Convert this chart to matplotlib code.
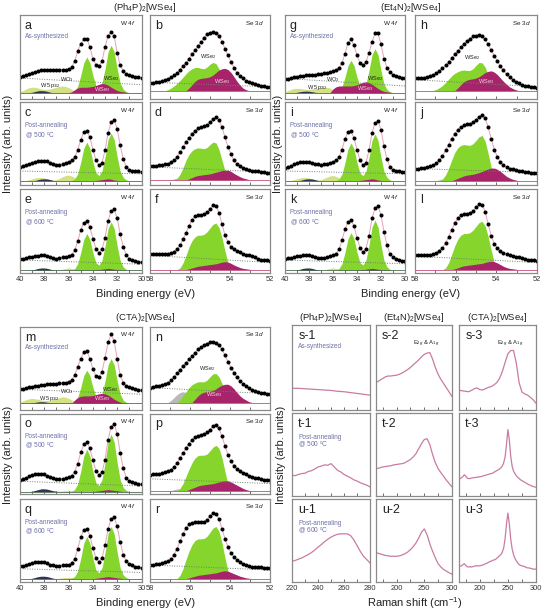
import numpy as np
import matplotlib
matplotlib.use('Agg')
import matplotlib.pyplot as plt

plt.rcParams.update({
    'font.family': ['Liberation Sans', 'DejaVu Sans'],
    'mathtext.fontset': 'custom',
    'mathtext.rm': 'Liberation Sans',
    'mathtext.it': 'Liberation Sans:italic',
    'mathtext.bf': 'Liberation Sans:bold',
})

# ---------------- XPS W 4f data (40 -> 30 eV, 0.25 eV step) ----------------
a_dots = [26, 27, 28, 29.5, 31, 32, 33.5, 34.5, 35, 35, 34.5, 34, 34, 34.5, 35, 35, 35.5, 38, 45, 57, 66,
          71, 72, 62, 48, 41, 39, 45, 62, 75, 80, 75, 55, 40, 33, 30, 28.5, 27, 26.5, 26, 25.5]
c_dots = [22, 23, 24, 25.5, 27, 28, 29, 29.5, 29.5, 28.5, 27, 25.5, 24.5, 24.5, 25.5, 27, 28, 30, 34, 42, 55,
          64, 66, 58, 43, 30, 24, 27, 42, 63, 76, 79, 68, 48, 31, 22, 18.5, 17.5, 17, 16.5, 16]
e_dots = [16.5, 17, 17.5, 18.5, 19.5, 20, 20.5, 21, 21, 20, 18.5, 17.5, 17, 17.5, 18.5, 19.5, 20, 22, 27, 38, 51,
          60, 62, 55, 41, 29, 24, 28, 42, 62, 74, 76, 65, 46, 31, 21.5, 17, 15.5, 14.5, 13.5, 12.5]
g_dots = [23.5, 24, 25, 26, 26.5, 27, 27.5, 28, 28.5, 28.5, 29, 29.5, 30, 30.5, 31, 32, 33, 34.5, 37, 43, 54,
          67, 71, 64, 52, 43, 40.5, 44, 55, 68, 78, 78, 65, 48, 37, 32, 29, 27, 26, 25, 24.5]
i_dots = [21, 22, 23.5, 25, 26.5, 27.5, 28, 28, 28, 27, 26, 25, 24.5, 25, 26, 27, 28, 30, 34, 43, 56,
          64, 65, 57, 43, 30, 24, 27, 42, 63, 75, 78, 67, 47, 31, 22, 18, 17, 16.5, 16, 15.5]
k_dots = [17, 17.5, 18, 19, 20, 20.5, 21, 21, 21, 20, 19, 18, 17.5, 18, 19, 20, 21, 23, 28, 39, 52,
          61, 63, 56, 42, 30, 25, 29, 44, 65, 77, 80, 69, 49, 33, 23, 18.5, 16.5, 15.5, 14.5, 14]
m_dots = [25, 25.5, 26.5, 27.5, 28, 29, 29.5, 30, 30.5, 31, 31, 31.5, 31.5, 32, 32.5, 33, 34, 36, 42, 52, 62,
          70, 71, 62, 49, 41, 40, 46, 63, 82, 91, 83, 62, 42, 33, 29, 27.5, 26.5, 25.5, 24.5, 24]
o_dots = [17.5, 18.5, 20, 22, 23.5, 24.5, 25, 25, 24.5, 23, 21, 19.5, 18.5, 18.5, 19, 20, 21, 23, 28, 38, 52,
          62, 65, 57, 42, 29, 23.5, 27, 43, 68, 84, 88, 75, 51, 32, 20, 16, 14.5, 13.5, 12.5, 12]
q_dots = [19, 19.5, 20.5, 21.5, 22.5, 23.5, 24, 24, 23.5, 22.5, 21, 20, 19.5, 19.5, 20, 20.5, 21, 23, 28, 40, 54,
          63, 64, 56, 41, 29, 24.5, 29, 44, 64, 76, 78, 67, 48, 33, 25, 21.5, 20, 18.5, 17.5, 17]

# components: (start eV, values), step 0.25 eV towards lower BE
a_green = (36.0, [7.5, 7.9, 9.6, 15.2, 27.9, 43.2, 50, 43.2, 27.9, 16.3, 13.6, 19.2, 35.8, 56.1, 64, 56.1, 35.8,
                  18.8, 11.5, 8.6, 7.5])
a_mag = (36.0, [7.5, 8.5, 11, 13, 14, 14, 14, 14.5, 15, 16, 17.5, 18.5, 18, 16.5, 14, 12, 10, 9, 8.5, 8, 7.5])
a_yel = (40.0, [8.5, 10, 12, 13.5, 14, 14, 13, 12, 11.5, 11.5, 12, 13, 14, 15, 15.5, 15, 13.5, 11.5, 10, 9, 7.5])
a_navy = (39.25, [7.5, 8, 9, 9.8, 10, 9.8, 9, 8, 7.5])
g_green = (36.0, [7.5, 7.9, 9.4, 14.4, 26, 39.8, 46, 39.8, 26, 15.5, 13.1, 18.4, 33.8, 52.7, 60, 52.7, 33.8,
                  18, 11.2, 8.6, 7.5])
g_mag = (36.25, [7.5, 12, 14.5, 15.5, 15.5, 15.5, 15.5, 15.5, 16, 17, 18.5, 20, 20.5, 19.5, 17.5, 15, 12.5, 10.5,
                 9, 8.5, 8, 7.5])
g_yel = (40.0, [8.5, 10, 11.5, 12.5, 12.7, 12.5, 12, 11.5, 11.5, 12, 12.5, 13, 13.5, 14, 14, 13, 11, 9, 7.5])
g_navy = (39.25, [7.5, 8, 8.7, 9.2, 9.4, 9.2, 8.7, 8, 7.5])
m_green = (36.0, [8, 8.4, 10, 15.2, 27.2, 41.6, 48, 41.6, 27.2, 16.3, 13.8, 19.2, 35, 54.4, 62, 54.4, 35,
                  18.8, 11.8, 9.1, 8])
m_mag = (35.75, [8, 12, 15, 16.5, 17, 17, 17, 17.5, 18.5, 19.5, 20, 19.5, 18, 15.5, 13, 11, 9.5, 8.5, 8, 8])
m_yel = (40.0, [9, 11, 12.5, 13.5, 14, 13.5, 13, 12, 11.5, 11.5, 12, 13, 14, 15, 16, 15.5, 14, 12, 10, 8])
m_navy = (39.25, [8, 8.5, 9.2, 9.8, 10, 9.8, 9.2, 8.5, 8])
c_green = (36.0, [5, 5.5, 7.4, 13.5, 27.6, 44.5, 52, 44.5, 27.6, 14.7, 11.5, 17.1, 34, 54.9, 63, 54.9, 34,
                  16.6, 9.1, 6.2, 5])
c_mag = (34.0, [5, 5.5, 6, 6.5, 7, 7.5, 7, 6, 5.5, 5, 5])
c_yel = (39.75, [5, 5.5, 6.5, 7.5, 8.5, 9, 9, 8.5, 7.5, 6.5, 6, 6.5, 8, 10, 11.5, 12, 11, 9, 6.5, 5])
c_navy = (39.0, [5, 5.5, 6.5, 7.3, 7.5, 7.3, 6.5, 5.5, 5])
i_green = (36.0, [5, 5.5, 7.3, 13.3, 27.1, 43.6, 51, 43.6, 27.1, 14.4, 11.3, 16.9, 33.5, 54, 62, 54, 33.5,
                  16.4, 9, 6.1, 5])
i_mag = (34.0, [5, 5.5, 6, 6.5, 7, 7.5, 7, 6, 5.5, 5, 5])
i_yel = (39.75, [5, 5.5, 6.5, 7.5, 8.5, 9, 9, 8.5, 7.5, 6.5, 6, 6.5, 8, 9.5, 11, 11.5, 10.5, 8.5, 6.5, 5])
i_navy = (39.0, [5, 5.5, 6.5, 7.3, 7.5, 7.3, 6.5, 5.5, 5])
o_green = (36.0, [3, 3.5, 5.7, 12.5, 28.4, 47.5, 56, 47.5, 28.4, 13.9, 10.7, 17.9, 39, 64.9, 75, 64.9, 39,
                  17.4, 8, 4.4, 3])
o_mag = (34.0, [3, 3.5, 4, 4.5, 5, 5.5, 5, 4.5, 4, 3.5, 3])
o_yel = (37.0, [3, 3.5, 4, 4.5, 4.5, 4, 3.5, 3, 3])
o_navy = (39.25, [3, 3.5, 4.5, 5.5, 6.5, 6.5, 6, 5, 4, 3.5, 3])
e_green = (36.0, [3, 3.4, 5.2, 10.9, 24.1, 40, 47, 40, 24.1, 12.1, 9.3, 15, 32, 52.9, 61, 52.9, 32,
                  14.6, 7.1, 4.2, 3])
e_mag = (34.0, [3, 3.5, 4, 4.5, 5, 5.5, 5, 4.5, 4, 3.5, 3])
e_yel = (37.0, [3, 3.5, 4.5, 5.5, 6, 5.5, 4.5, 3.5, 3])
e_navy = (39.25, [3, 3.5, 4.5, 5.5, 6, 6, 5.5, 4.5, 3.5, 3, 3])
k_green = (36.0, [3, 3.5, 5.3, 11.1, 24.6, 40.8, 48, 40.8, 24.6, 12.3, 9.5, 15.5, 33, 54.6, 63, 54.6, 33,
                  15, 7.2, 4.2, 3])
k_mag = (34.0, [3, 3.5, 4, 4.5, 5, 5.5, 5, 4.5, 4, 3.5, 3])
k_yel = (37.0, [3, 3.5, 4.5, 5.5, 6, 5.5, 4.5, 3.5, 3])
k_navy = (39.25, [3, 3.5, 4.5, 5.5, 6, 6, 5.5, 4.5, 3.5, 3, 3])
q_green = (36.0, [4, 4.5, 6.6, 13.2, 28.5, 46.8, 55, 46.8, 28.5, 14.5, 11, 17.1, 35.5, 58.2, 67, 58.2, 35.5,
                  16.6, 8.4, 5.3, 4])
q_mag = (34.0, [4, 4.5, 5, 5.5, 6, 6.5, 6, 5.5, 5, 4.5, 4])
q_yel = (37.0, [4, 4.5, 5, 5.5, 5.5, 5, 4.5, 4, 4])
q_navy = (39.25, [4, 4.5, 5.5, 6.5, 7, 7, 6.5, 5.5, 4.5, 4, 4])

# ---------------- XPS Se 3d data (58 -> 52 eV, 0.15 eV step) ----------------
b_dots = [19, 19.5, 20, 20.5, 21, 22.5, 24, 26, 28, 31, 35, 39, 43, 48, 53, 58, 63, 68, 73, 77, 79,
          80, 79, 75, 68, 60, 52, 44, 37, 31, 27, 24.5, 22, 20.5, 19, 18, 17, 16, 15.5, 14.5, 14]
d_dots = [23, 23, 23.5, 24, 24.5, 25, 26, 27.5, 30, 34, 40, 46, 52, 57.5, 62, 66, 69, 70.5, 71.5, 73, 76,
          80, 82, 79, 70, 58, 46, 37, 30, 25.5, 22.5, 20.5, 19, 18, 17.5, 17, 16.5, 16, 15.5, 15, 14.5]
f_dots = [22.5, 22.5, 22.5, 22.5, 22.5, 22.5, 22.5, 23.5, 25.5, 28.5, 33, 40, 48, 56, 63, 67.5, 69, 69, 70, 72.5, 76,
          80.5, 80, 72, 58, 45, 37, 31.5, 28, 26, 24.5, 23, 22, 21, 20, 18.5, 17, 16, 15.5, 15, 14.5]
h_dots = [24.5, 25, 25, 25.5, 26, 27, 29, 31, 33.5, 36.5, 40, 44, 48.5, 53, 57, 61.5, 65.5, 69, 72, 74.5, 75.5,
          76, 74.5, 71, 65, 58, 51.5, 45, 39, 34, 29.5, 26, 23, 20.5, 18.5, 17, 16, 15, 14.5, 14, 13.5]
j_dots = [20, 20, 20.5, 21, 21.5, 22.5, 24, 26.5, 30, 35, 42, 49, 56, 62, 67, 70.5, 72.5, 73.5, 74, 76, 79,
          83, 85, 81, 70, 56, 43, 34, 28, 24, 21.5, 20, 19, 18, 17, 16.5, 16, 15.5, 15, 14.5, 14]
l_dots = [21, 21, 21, 21.5, 21.5, 22, 22.5, 24, 26.5, 30, 35.5, 43, 51, 59, 65, 69, 70.5, 70.5, 71.5, 74, 78,
          82, 81, 73, 58, 44, 35, 29.5, 26, 24, 22.5, 21.5, 20.5, 19.5, 18.5, 17.5, 16.5, 16, 15.5, 15, 14.5]
n_dots = [27, 27.5, 28.5, 29.5, 30.5, 31.5, 33, 36, 39.5, 44, 48.5, 53, 57, 61, 65, 69, 73, 76, 78.5, 80, 81.5,
          82, 81, 78, 73, 66, 58, 51, 45, 39.5, 35, 31.5, 28.5, 26.5, 24.5, 23, 22, 21, 20, 19.5, 19]
p_dots = [24, 24.5, 25, 25.5, 26, 27, 28.5, 30.5, 34, 39, 45, 51, 57, 63, 68, 71.5, 73, 74, 75, 77, 80.5,
          84.5, 86, 82, 72, 60, 49, 41, 35.5, 31.5, 28.5, 26, 24.5, 23, 21.5, 20.5, 19.5, 18.5, 18, 17.5, 17]
r_dots = [21, 21, 21.5, 22, 22.5, 23.5, 25, 28, 33, 40, 49, 58, 65, 69.5, 71.5, 72, 72, 72, 72.5, 75, 79,
          83.5, 82, 76, 64, 52, 42, 35, 30, 26, 23.5, 21.5, 20, 19, 18.5, 18, 17.5, 17.5, 17, 17, 16.5]

b_green = (57.25, [10, 11, 13, 15.5, 18.5, 22, 26, 30, 33.5, 36, 37.5, 37.5, 36.5, 36, 38, 41.5, 43.5, 42, 36, 26, 17, 10])
b_mag = (56.2, [10, 13, 17, 21, 23.5, 24.5, 25, 25.5, 26.5, 28.5, 31.5, 34.5, 36, 36.5, 35, 31.5, 26.5, 21, 16.5, 13, 11, 10])
b_gray = (57.1, [10, 12, 14.5, 17, 19, 20, 19, 15, 10])
h_green = (57.1, [10, 11, 13, 16, 19.5, 23.5, 27.5, 30.5, 32.5, 34, 34.5, 34, 34, 36, 40, 43.5, 43, 38, 29, 20, 13, 10])
h_mag = (56.05, [10, 13, 17, 20.5, 22.5, 23.5, 24, 25, 26.5, 29, 31.5, 33, 33.5, 32, 29, 25, 21, 17.5, 14.5, 12.5, 11, 10])
h_gray = (57.1, [10, 11.5, 13.5, 15.5, 17, 17.5, 16.5, 13.5, 10])
n_green = (56.65, [9, 12, 17, 22, 27, 30.5, 32.5, 34, 34, 34, 36, 40, 43.5, 44, 40, 32, 22, 14, 10, 9])
n_mag = (55.9, [9, 13, 17, 20, 21.5, 22, 22.5, 23.5, 25.5, 28, 30, 31, 31, 29, 25.5, 21, 17, 14, 12, 10, 9])
n_gray = (57.1, [9, 11.5, 15, 18.5, 21, 22, 21, 16, 9])
d_green = (56.8, [6, 8, 13, 21, 30, 37, 41.5, 44, 45, 44.5, 44, 45.5, 49, 52, 51, 43, 30, 17, 9, 6])
d_mag = (56.2, [6, 7.5, 9, 10.5, 11.5, 12, 12.5, 13, 13.5, 14.5, 15.5, 16.5, 17.5, 18, 18, 16.5, 14, 12, 10, 8.5,
                7.5, 6.5, 6])
d_gray = (57.0, [6, 7, 8, 8.5, 8, 7, 6])
j_green = (56.8, [5, 7, 12, 20, 30, 39, 45, 48, 49, 48.5, 48, 50, 54, 58.5, 60, 53, 38, 21, 10, 5])
j_mag = (56.2, [5, 6.5, 8, 9.5, 11, 12, 12.5, 13, 14, 15, 16.5, 18, 19.5, 20.5, 20.5, 19, 16.5, 13.5, 10.5, 8.5,
                7, 6, 5])
j_gray = (57.0, [5, 6, 7, 7.5, 7, 6, 5])
p_green = (56.65, [4, 7, 13, 22, 31, 39, 45, 48, 48.5, 48.5, 50, 54, 58.5, 61, 57, 45, 28, 12, 4])
p_mag = (56.2, [4, 5.5, 7, 8.5, 10, 11, 11.5, 12, 12.5, 13, 14, 15, 16, 16.5, 16.5, 15, 13, 11, 9, 7, 5.5, 4.5, 4])
p_gray = (57.0, [4, 5, 6, 6.5, 6, 5, 4])
f_green = (56.65, [4, 6, 12, 21, 31, 38.5, 43, 45, 45, 46, 49, 53.5, 58, 59.5, 54, 42, 26, 12, 4])
f_mag = (56.2, [4, 5, 6, 7, 8, 8.5, 9, 9.5, 10, 10.5, 11, 12, 13, 13.5, 13, 11.5, 9.5, 8, 6.5, 5.5, 5, 4.5, 4])
l_green = (56.65, [4, 6, 12, 22, 32, 40, 45, 47, 47, 48, 51, 55.5, 60, 61.5, 56, 43, 27, 12, 4])
l_mag = (56.2, [4, 5, 6, 7.5, 8.5, 9, 9.5, 10, 10.5, 11, 11.5, 12.5, 13.5, 14, 13.5, 12, 10, 8, 6.5, 5.5, 5, 4.5, 4])
r_green = (56.65, [4, 8, 16, 27, 37, 45, 50, 52, 52, 52.5, 55, 60, 65, 67, 61, 47, 29, 13, 4])
r_mag = (56.2, [4, 5, 6, 7, 8, 8.5, 9, 9.5, 10, 10.5, 11, 12, 13, 13.5, 13, 11.5, 10, 8.5, 7, 6, 5, 4.5, 4])

# baselines and linear backgrounds (value at left edge, value at right edge)
xps_base = {'a': 7.5, 'g': 7.5, 'm': 8, 'c': 5, 'i': 5, 'o': 3, 'e': 3, 'k': 3, 'q': 4,
            'b': 10, 'h': 10, 'n': 9, 'd': 6, 'j': 5, 'p': 4, 'f': 4, 'l': 4, 'r': 4}
xps_bg = {'a': (25, 17), 'g': (24.5, 15.5), 'm': (25, 19), 'c': (17, 13.5), 'i': (17, 13.5),
          'o': (16, 10), 'e': (15.5, 10.5), 'k': (15.5, 11), 'q': (16, 11.5),
          'b': (20, 14.5), 'h': (23, 14.5), 'n': (27, 19.5), 'd': (22, 15.5), 'j': (20, 15),
          'p': (19, 13), 'f': (21, 12.5), 'l': (20, 12.5), 'r': (20.5, 14.5)}

# ---------------- Raman data ----------------
s1 = [25.5, 25.5, 25, 24.5, 24, 23.5, 23, 22, 21.5, 20.5, 19.5, 18.5, 17.5]
t1 = [25, 24.5, 26, 27, 27.5, 29.5, 30.5, 32.5, 35, 36, 37.5, 37, 39, 35, 31, 29, 26, 24, 22, 19.5, 18, 16,
      14.5, 13, 11]
u1 = [25, 26, 27.5, 29, 31, 33, 35.5, 38.5, 42, 45, 48.5, 51.5, 54, 56, 57.5, 58, 58, 58, 56, 51, 44, 37, 31,
      27, 23]
s2 = [33, 35, 37, 39, 40, 40, 40.5, 41, 42, 43.5, 45.5, 47.5, 50, 53, 56, 59, 62.5, 65.5, 67, 67.5, 60, 50, 42,
      36, 31, 26, 21, 16]
t2 = [33, 34, 35, 35.5, 36, 36.5, 37.5, 38, 38.5, 39, 40, 42, 44, 47, 51, 57, 63, 68, 69, 62, 50, 40, 33, 28,
      23.5, 19, 15, 11]
u2 = [35, 34, 33, 32, 31.5, 31, 31, 31, 31.5, 32.5, 34, 36, 39, 42.5, 47, 53, 60, 64, 57, 46, 37, 29, 22, 18,
      15, 13, 11, 9.5]
s3 = [23, 22.5, 22, 21.5, 23, 25, 26, 24, 23.5, 25, 26.5, 27.5, 29.5, 32, 37, 45, 56, 66, 70, 70, 55, 32, 21,
      19, 17.5, 15, 12, 8]
t3 = [21, 22, 23.5, 25.5, 24, 21.5, 21, 21, 21.5, 22, 22, 22.5, 22.5, 23, 23, 23.5, 24, 24.5, 25, 25.5, 26,
      26.5, 27, 27.5, 28.5, 29.5, 30.5, 31.5, 32.5, 34, 36, 40, 47, 62, 80, 68, 48, 36, 30, 27, 24.5, 22.5, 21,
      19.5, 18.5, 17.5, 16.5, 15.5, 14.5, 13.5, 13, 12, 11.5, 11, 10.5]
u3 = [19, 19.5, 21, 22, 20, 18.5, 18, 18.5, 18, 18.5, 19, 19.5, 19.5, 19.5, 19.5, 20, 20.5, 21, 22, 22.5, 23.5,
      24.5, 25, 26, 26.5, 27, 28.5, 30, 31.5, 33, 36, 41, 52, 70, 83, 70, 52, 40, 33, 28.5, 25.5, 23, 21, 20,
      19.5, 19, 18.5, 17.5, 17, 17, 16.5, 16, 15.5, 15.5, 15.5]

# ---------------- style ----------------
GREEN = '#86d52c'
MAGENTA = '#a7246a'
YELLOW = '#d3e083'
NAVY = '#2d3654'
GRAY = '#b9b9b9'
SPINE = '#8a8a8a'
FIT = '#e7a2b8'
RAMAN = '#c97ba2'
NOTE = '#6d71a8'
TXT = '#222222'

W_PX, H_PX = 543, 613
fig = plt.figure(figsize=(5.43, 6.13), dpi=100)


def add_ax(x0, y0, x1, y1):
    return fig.add_axes([x0 / W_PX, 1 - y1 / H_PX, (x1 - x0) / W_PX, (y1 - y0) / H_PX])


def fig_text(x, y, s, **kw):
    fig.text(x / W_PX, 1 - y / H_PX, s, **kw)


def style_ax(ax, show_labels):
    for sp in ax.spines.values():
        sp.set_color(SPINE)
        sp.set_linewidth(0.9)
    ax.set_yticks([])
    ax.tick_params(which='both', direction='in', length=2.2, width=0.6, color='#555555',
                   top=False, labelbottom=show_labels, labelsize=5.4, pad=2, labelcolor='#333333')


def xps_panel(ax, core, key, dots, comps, labels, show_labels):
    if core == 'W':
        lo, hi, step = 40, 30, 0.25
        base_col = '#4f6c55'
    else:
        lo, hi, step = 58, 52, 0.15
        base_col = '#c4507f'
    base = xps_base[key]
    for color, (x0, vals) in comps:
        xs = x0 - step * np.arange(len(vals))
        ax.fill_between(xs, base, vals, color=color, lw=0)
    ax.plot([lo, hi], [base, base], color=base_col, lw=0.6)
    ax.plot([lo, hi], xps_bg[key], ls=(0, (1, 1.5)), color='#6f8070', lw=0.7)
    xd = np.linspace(lo, hi, len(dots))
    ax.plot(xd, dots, color=FIT, lw=0.7)
    ax.plot(xd, dots, 'o', ms=2.9, color='black', mec='none')
    for s, x, y, c in labels:
        ax.text(x, y, s, color=c, fontsize=4.1, ha='center', va='center')
    ax.set_xlim(lo, hi)
    ax.set_ylim(0, 100)
    if core == 'W':
        ax.set_xticks([40, 38, 36, 34, 32, 30])
        ax.set_xticks([39, 37, 35, 33, 31], minor=True)
        ax.text(0.95, 0.91, r'W $\mathit{4f}$', transform=ax.transAxes, fontsize=4.6,
                ha='right', va='center', color=TXT)
    else:
        ax.set_xticks([58, 56, 54, 52])
        ax.set_xticks([57, 55, 53], minor=True)
        ax.text(0.95, 0.91, r'Se $\mathit{3d}$', transform=ax.transAxes, fontsize=4.6,
                ha='right', va='center', color=TXT)
    style_ax(ax, show_labels)
    ax.text(0.04, 0.87, key, transform=ax.transAxes, fontsize=9, ha='left', va='center', color=TXT)


def note(ax, row, x=0.04, ys=(0.75, 0.72, 0.60)):
    if row == 0:
        ax.text(x, ys[0], 'As-synthesized', transform=ax.transAxes, fontsize=4.7, color=NOTE,
                ha='left', va='center')
    else:
        temp = '500' if row == 1 else '600'
        ax.text(x, ys[1], 'Post-annealing', transform=ax.transAxes, fontsize=4.7, color=NOTE,
                ha='left', va='center')
        ax.text(x, ys[2], '@ ' + temp + r' $^{\rm o}$C', transform=ax.transAxes, fontsize=4.7,
                color=NOTE, ha='left', va='center')


W_LBL = [('W 5p$_{3/2}$', 37.5, 15.5, TXT), ('WO$_3$', 36.1, 23, TXT), ('WSe$_2$', 32.5, 24, TXT),
         ('WSe$_3$', 33.2, 11.5, '#f3d6e4')]
SE_LBL = [('WSe$_2$', 55.1, 50, TXT), ('WSe$_3$', 54.4, 20.5, '#f3d6e4')]

top_rows = [(15, 99), (102.5, 185), (189, 273)]
bot_rows = [(327, 410), (414, 494), (499, 582)]
blocks = [
    ((20, 141.5), (150, 270), top_rows, [
        ('a', a_dots, [(YELLOW, a_yel), (NAVY, a_navy), (GREEN, a_green), (MAGENTA, a_mag)], W_LBL,
         'b', b_dots, [(GRAY, b_gray), (GREEN, b_green), (MAGENTA, b_mag)], SE_LBL),
        ('c', c_dots, [(YELLOW, c_yel), (NAVY, c_navy), (GREEN, c_green), (MAGENTA, c_mag)], [],
         'd', d_dots, [(GRAY, d_gray), (GREEN, d_green), (MAGENTA, d_mag)], []),
        ('e', e_dots, [(YELLOW, e_yel), (NAVY, e_navy), (GREEN, e_green), (MAGENTA, e_mag)], [],
         'f', f_dots, [(GREEN, f_green), (MAGENTA, f_mag)], []),
    ]),
    ((285, 405), (415, 537), top_rows, [
        ('g', g_dots, [(YELLOW, g_yel), (NAVY, g_navy), (GREEN, g_green), (MAGENTA, g_mag)],
         [('W 5p$_{3/2}$', 37.3, 13.5, TXT), ('WO$_3$', 36.0, 23, TXT), ('WSe$_2$', 32.5, 24.5, TXT),
          ('WSe$_3$', 33.3, 12.7, '#f3d6e4')],
         'h', h_dots, [(GRAY, h_gray), (GREEN, h_green), (MAGENTA, h_mag)],
         [('WSe$_2$', 55.2, 49.5, TXT), ('WSe$_3$', 54.5, 20.5, '#f3d6e4')]),
        ('i', i_dots, [(YELLOW, i_yel), (NAVY, i_navy), (GREEN, i_green), (MAGENTA, i_mag)], [],
         'j', j_dots, [(GRAY, j_gray), (GREEN, j_green), (MAGENTA, j_mag)], []),
        ('k', k_dots, [(YELLOW, k_yel), (NAVY, k_navy), (GREEN, k_green), (MAGENTA, k_mag)], [],
         'l', l_dots, [(GREEN, l_green), (MAGENTA, l_mag)], []),
    ]),
    ((20, 141.5), (150, 270), bot_rows, [
        ('m', m_dots, [(YELLOW, m_yel), (NAVY, m_navy), (GREEN, m_green), (MAGENTA, m_mag)],
         [('W 5p$_{3/2}$', 37.6, 13.5, TXT), ('WO$_3$', 36.1, 22.5, TXT), ('WSe$_2$', 32.6, 24.5, TXT),
          ('WSe$_3$', 33.2, 14, '#f3d6e4')],
         'n', n_dots, [(GRAY, n_gray), (GREEN, n_green), (MAGENTA, n_mag)],
         [('WSe$_2$', 55.15, 50, TXT), ('WSe$_3$', 54.8, 18.5, '#f3d6e4')]),
        ('o', o_dots, [(YELLOW, o_yel), (NAVY, o_navy), (GREEN, o_green), (MAGENTA, o_mag)], [],
         'p', p_dots, [(GRAY, p_gray), (GREEN, p_green), (MAGENTA, p_mag)], []),
        ('q', q_dots, [(YELLOW, q_yel), (NAVY, q_navy), (GREEN, q_green), (MAGENTA, q_mag)], [],
         'r', r_dots, [(GREEN, r_green), (MAGENTA, r_mag)], []),
    ]),
]

for (wx, sx, rows, panels) in blocks:
    for r, ((y0, y1), p) in enumerate(zip(rows, panels)):
        kw, dw, cw, lw_, ks, ds, cs, ls_ = p
        axw = add_ax(wx[0], y0, wx[1], y1)
        xps_panel(axw, 'W', kw, dw, cw, lw_, r == 2)
        note(axw, r)
        axs = add_ax(sx[0], y0, sx[1], y1)
        xps_panel(axs, 'Se', ks, ds, cs, ls_, r == 2)

# block titles / axis labels
fig_text(145, 8, r'(Ph$_4$P)$_2$[WSe$_4$]', fontsize=6.8, ha='center', va='center', color=TXT)
fig_text(411, 8, r'(Et$_4$N)$_2$[WSe$_4$]', fontsize=6.8, ha='center', va='center', color=TXT)
fig_text(145, 318, r'(CTA)$_2$[WSe$_4$]', fontsize=6.8, ha='center', va='center', color=TXT)
for x, y in [(146, 294), (411, 294), (146, 603)]:
    fig_text(x, y, 'Binding energy (eV)', fontsize=8, ha='center', va='center', color=TXT)
for x, y in [(8, 144), (278, 144), (8, 455), (281, 455)]:
    fig_text(x, y, 'Intensity (arb. units)', fontsize=8, ha='center', va='center',
             rotation=90, color=TXT)

# ---------------- Raman panels ----------------
raman_cols = [(292, 370, 220, 280), (376, 452, 163, 300), (459, 536, 163, 300)]
raman_rows = [(325, 410), (413, 496), (499, 582)]
raman_data = [[s1, s2, s3], [t1, t2, t3], [u1, u2, u3]]
raman_titles = [r'(Ph$_4$P)$_2$[WSe$_4$]', r'(Et$_4$N)$_2$[WSe$_4$]', r'(CTA)$_2$[WSe$_4$]']
raman_letters = ['s', 't', 'u']

for c, (x0, x1, lo, hi) in enumerate(raman_cols):
    fig_text((x0 + x1) / 2, 317, raman_titles[c], fontsize=6.8, ha='center', va='center', color=TXT)
    for r, (y0, y1) in enumerate(raman_rows):
        ax = add_ax(x0, y0, x1, y1)
        ys = raman_data[r][c]
        x0_data = 220 if c == 0 else 165
        xr = np.linspace(x0_data, hi, len(ys))
        ax.plot(xr, ys, color=RAMAN, lw=0.9)
        ax.set_xlim(lo, hi)
        ax.set_ylim(0, 100)
        if c == 0:
            ax.set_xticks([220, 240, 260, 280])
            ax.set_xticks([230, 250, 270], minor=True)
        else:
            ax.set_xticks([200, 250, 300])
            ax.set_xticks([175, 225, 275], minor=True)
        style_ax(ax, r == 2)
        ax.text(0.08, 0.87, '%s-%d' % (raman_letters[r], c + 1), transform=ax.transAxes,
                fontsize=9, ha='left', va='center', color=TXT)
        if c == 0:
            note(ax, r, x=0.08, ys=(0.75, 0.71, 0.62))
        if r == 0 and c > 0:
            ax.text(254, 78, r'E$_{2g}$ & A$_{1g}$', fontsize=4.2, ha='center', va='center', color=TXT)

fig_text(415, 603, r'Raman shift (cm$^{-1}$)', fontsize=8, ha='center', va='center', color=TXT)

fig.savefig('out.png', dpi=100)
